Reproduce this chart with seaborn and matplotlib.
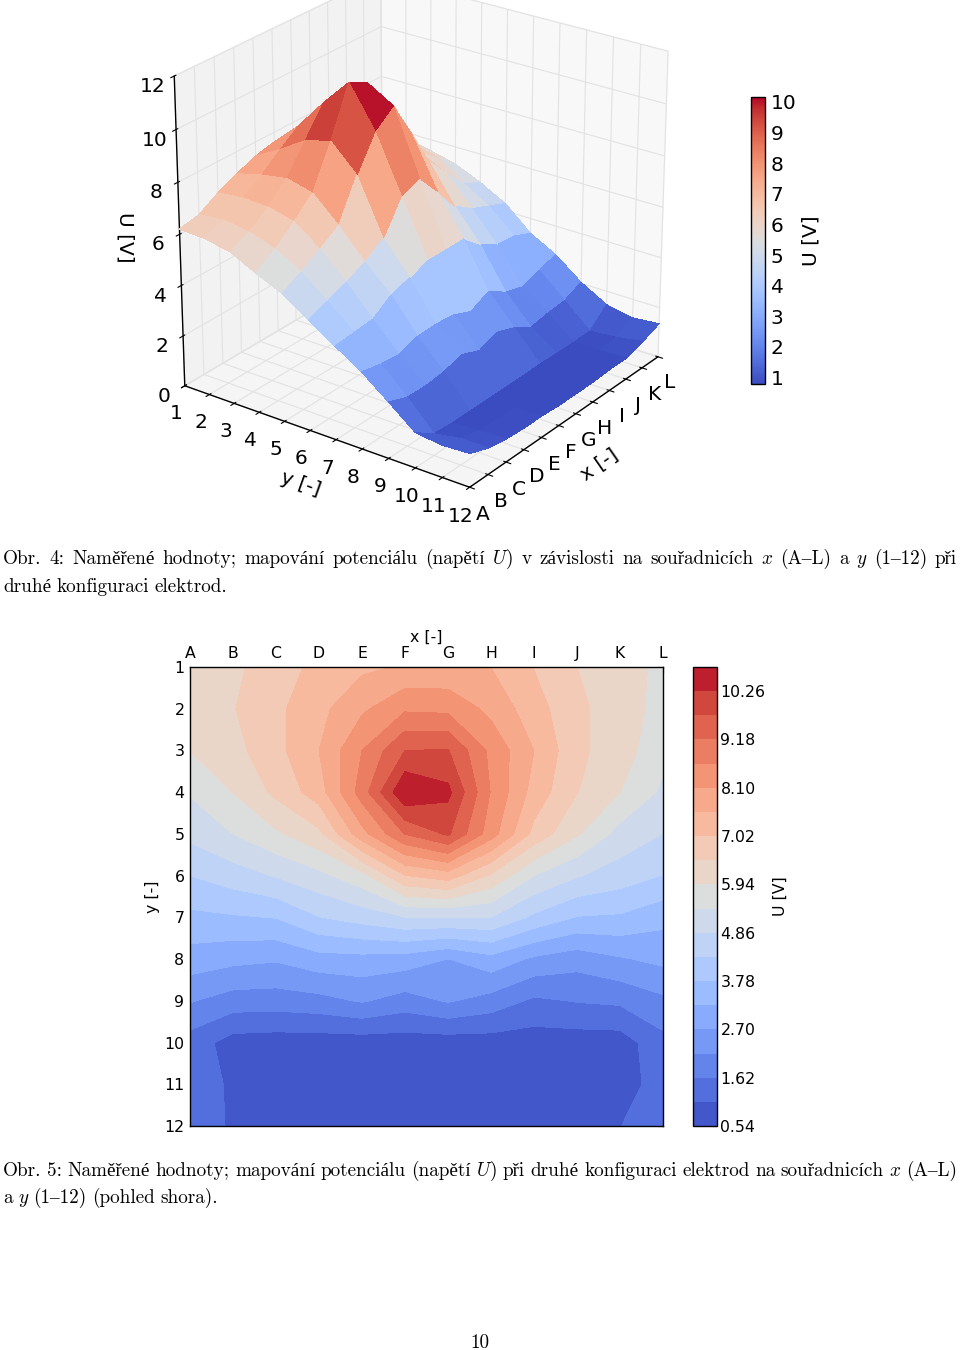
#!/usr/bin/env python3
import re
import numpy as np
import matplotlib
matplotlib.use('Agg')
import matplotlib.pyplot as plt
from mpl_toolkits.mplot3d import Axes3D  # noqa
import seaborn as sns

# Data
x_labels = ['A', 'B', 'C', 'D', 'E', 'F', 'G', 'H', 'I', 'J', 'K', 'L']
y_labels = [1, 2, 3, 4, 5, 6, 7, 8, 9, 10, 11, 12]
x_pos = [0, 1, 2, 3, 4, 5, 6, 7, 8, 9, 10, 11]
z_ticks = [0, 2, 4, 6, 8, 10, 12]

row_1 = [6.20, 6.35, 6.80, 7.15, 7.45, 7.62, 7.65, 7.55, 7.00, 6.48, 6.10, 5.85]
row_2 = [6.15, 6.45, 6.90, 7.40, 8.00, 8.55, 8.50, 7.95, 7.25, 6.60, 6.20, 5.75]
row_3 = [5.95, 6.30, 6.85, 7.56, 8.64, 9.72, 9.75, 8.50, 7.56, 6.60, 6.20, 5.55]
row_4 = [5.45, 5.95, 6.60, 7.30, 8.90, 10.78, 10.40, 8.60, 7.35, 6.50, 5.94, 5.30]
row_5 = [5.00, 5.40, 5.85, 6.35, 7.90, 9.20, 9.80, 8.35, 6.85, 6.00, 5.20, 4.85]
row_6 = [4.32, 4.60, 4.90, 5.25, 5.75, 7.00, 7.30, 6.40, 5.40, 4.90, 4.60, 4.30]
row_7 = [3.65, 3.72, 3.80, 4.30, 4.55, 4.85, 4.85, 4.85, 4.20, 3.75, 3.70, 3.40]
row_8 = [3.00, 2.85, 2.76, 3.03, 3.06, 2.99, 2.69, 3.05, 2.60, 2.38, 2.64, 2.84]
row_9 = [2.20, 1.91, 1.89, 1.98, 2.21, 1.92, 2.21, 1.94, 1.52, 1.65, 1.72, 2.04]
row_10 = [1.37, 0.85, 0.80, 0.80, 0.80, 0.80, 0.80, 0.82, 0.80, 0.80, 0.81, 1.45]
row_11 = [1.25, 1.03, 0.85, 0.82, 0.80, 0.78, 0.78, 0.78, 0.80, 0.80, 0.90, 1.25]
row_12 = [1.30, 1.03, 0.90, 0.85, 0.85, 0.80, 0.80, 0.80, 0.85, 0.85, 1.07, 1.35]

levels = [0.54, 1.08, 1.62, 2.16, 2.70, 3.24, 3.78, 4.32, 4.86, 5.40,
          5.94, 6.48, 7.02, 7.56, 8.10, 8.64, 9.18, 9.72, 10.26, 10.80]
contour_ticks = [0.54, 1.62, 2.70, 3.78, 4.86, 5.94, 7.02, 8.10, 9.18, 10.26]
surface_ticks = [1, 2, 3, 4, 5, 6, 7, 8, 9, 10]

caption_4 = ['Obr. 4: Naměřené hodnoty; mapování potenciálu (napětí *U*) v závislosti na souřadnicích *x* (A–L) a *y* (1–12) při',
             'druhé konfiguraci elektrod.']
caption_5 = ['Obr. 5: Naměřené hodnoty; mapování potenciálu (napětí *U*) při druhé konfiguraci elektrod na souřadnicích *x* (A–L)',
             'a *y* (1–12) (pohled shora).']

W, H = 960, 1350
SERIF = ['cmr10', 'Liberation Serif']


def rect(left, top, right, bottom):
    """Pixel box to figure coordinates"""
    return [left / W, 1 - bottom / H, (right - left) / W, (bottom - top) / H]


def draw_line(fig, renderer, text, y, x0=3, x1=None, size=13.8, gap=5.6):
    """One caption line, *word* is italic; with x1 the line is justified"""
    items = []
    for m in re.finditer(r'(\s*)(\*?)([^\s*]+)\*?', text):
        t = fig.text(x0 / W, 1 - y / H, m.group(3), fontsize=size, va='baseline',
                     family=['cmmi10'] if m.group(2) else SERIF)
        items.append((t, t.get_window_extent(renderer).width, bool(m.group(1))))
    n_gaps = sum(1 for it in items[1:] if it[2])
    if x1 is not None:
        gap = (x1 - x0 - sum(it[1] for it in items)) / n_gaps
    pos = x0
    for k, (t, w, spaced) in enumerate(items):
        if k and spaced:
            pos += gap
        t.set_x(pos / W)
        pos += w


sns.set_style('white', {'grid.color': '#e2e2e2', 'xtick.direction': 'in', 'ytick.direction': 'in'})
plt.rcParams['font.family'] = ['DejaVu Sans']
plt.rcParams['axes.linewidth'] = 1.0
plt.rcParams['axes.edgecolor'] = 'black'
plt.rcParams['text.color'] = 'black'
plt.rcParams['xtick.color'] = 'black'
plt.rcParams['ytick.color'] = 'black'
plt.rcParams['axes.labelcolor'] = 'black'

cmap = sns.color_palette('coolwarm', as_cmap=True)
Z = np.array([row_1, row_2, row_3, row_4, row_5, row_6, row_7, row_8, row_9, row_10, row_11, row_12])
X, Y = np.meshgrid(x_pos, y_labels)

fig = plt.figure(figsize=(9.6, 13.5), dpi=100)
renderer = fig.canvas.get_renderer()

# Obr. 4: surface
ax3 = fig.add_axes(rect(60, -81, 770, 539), projection='3d')
surf = ax3.plot_surface(X, Y, Z, cmap=cmap, rstride=1, cstride=1, linewidth=0,
                        edgecolor='none', antialiased=False, shade=False)
ax3.view_init(elev=25, azim=-144)
ax3.set_xlim(0, 11)
ax3.set_ylim(12, 1)
ax3.set_zlim(0, 12)
ax3.set_box_aspect((0.95, 1.0, 0.96), zoom=0.93)
ax3.set_xticks(x_pos)
ax3.set_xticklabels(x_labels)
ax3.set_yticks(y_labels)
ax3.set_yticklabels(y_labels)
ax3.set_zticks(z_ticks)
ax3.tick_params(labelsize=14.5, pad=2)
ax3.set_xlabel('x [-]', fontsize=14.5, labelpad=5)
ax3.set_ylabel('y [-]', fontsize=14.5, labelpad=5)
ax3.zaxis.set_rotate_label(False)
ax3.set_zlabel('U [V]', fontsize=14.5, rotation=270, labelpad=5)
ax3.grid(True)

cax3 = fig.add_axes(rect(751, 97, 765, 384))
cb3 = fig.colorbar(surf, cax=cax3, ticks=surface_ticks)
cb3.ax.tick_params(labelsize=14.5, direction='in', length=5, width=1, pad=4)
cb3.set_label('U [V]', fontsize=14.5, labelpad=4)

# Obr. 5: contours
ax2 = fig.add_axes(rect(190, 667, 663, 1126))
cf = ax2.contourf(X, Y, Z, levels=levels, cmap=cmap)
ax2.set_xlim(0, 11)
ax2.set_ylim(12, 1)
ax2.xaxis.tick_top()
ax2.xaxis.set_label_position('top')
ax2.set_xticks(x_pos)
ax2.set_xticklabels(x_labels)
ax2.set_yticks(y_labels)
ax2.tick_params(labelsize=11.3, direction='in', length=4, width=0.8, pad=4, top=True,
                bottom=False, left=False, right=True)
ax2.set_xlabel('x [-]', fontsize=11.3, labelpad=3)
ax2.set_ylabel('y [-]', fontsize=11.3, labelpad=3)

cax2 = fig.add_axes(rect(693, 667, 717, 1126))
cb2 = fig.colorbar(cf, cax=cax2, ticks=contour_ticks, format='%.2f')
cb2.ax.tick_params(labelsize=11.3, direction='in', length=4, width=0.8, pad=2.5)
cb2.set_label('U [V]', fontsize=11.3, labelpad=5)

# Captions and page number
draw_line(fig, renderer, caption_4[0], 564, x1=957)
draw_line(fig, renderer, caption_4[1], 592)
draw_line(fig, renderer, caption_5[0], 1176, x1=957)
draw_line(fig, renderer, caption_5[1], 1203)
fig.text(480 / W, 1 - 1348 / H, '10', fontsize=13.8, family=SERIF, ha='center', va='baseline')

fig.savefig('out.png', dpi=100)
